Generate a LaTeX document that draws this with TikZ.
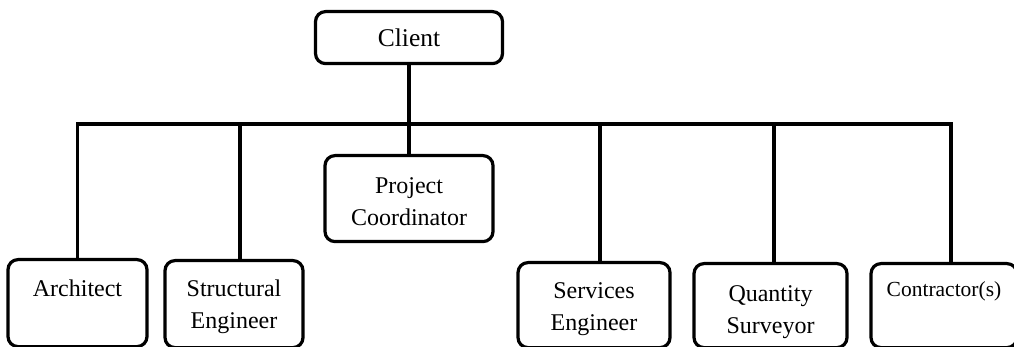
\documentclass[tikz,border=0pt]{standalone}
\usepackage{fontspec}
\setmainfont{Liberation Serif}
\begin{document}
\begin{tikzpicture}[x=1pt, y=-1pt, line cap=round, line width=3.2pt,
	unit/.style={draw, rounded corners=10pt, inner sep=0pt, anchor=north, text width=125pt, align=center, font=\fontsize{24}{32}\selectfont}]
	\useasboundingbox (0,0) rectangle (1014,347);
	\node[unit, minimum width=187pt, text height=35pt, text depth=17pt, font=\fontsize{25.5}{32}\selectfont] (client) at (409,10) {Client};
	\node[unit, minimum width=168pt, text height=38pt, text depth=48pt] (coord) at (409,154) {Project\\Coordinator};
	\node[unit, minimum width=139pt, text height=37pt, text depth=50pt] (arch) at (77.5,258) {Architect};
	\node[unit, minimum width=138pt, text height=36pt, text depth=51pt] (struct) at (234,259) {Structural\\Engineer};
	\node[unit, minimum width=152pt, text height=36pt, text depth=49pt] (serv) at (594,261) {Services\\Engineer};
	\node[unit, minimum width=153pt, text height=38pt, text depth=46pt] (qs) at (770.5,262) {Quantity\\Surveyor};
	\node[unit, minimum width=146pt, text height=33pt, text depth=51pt, font=\fontsize{21.5}{32}\selectfont] (contr) at (944,262) {Contractor(s)};
	% lines
	\coordinate (bus) at (409,124);
	\path ([xshift=6pt]struct.north) coordinate (s1) ([xshift=6pt]serv.north) coordinate (s2)
		([xshift=3.5pt]qs.north) coordinate (s3) ([xshift=7pt]contr.north) coordinate (s4);
	\draw (client.south) -- (coord.north);
	\draw (arch.north) |- (bus) -| (s4);
	\draw (s1) -- (s1 |- bus);
	\draw (s2) -- (s2 |- bus);
	\draw (s3) -- (s3 |- bus);
\end{tikzpicture}
\end{document}
